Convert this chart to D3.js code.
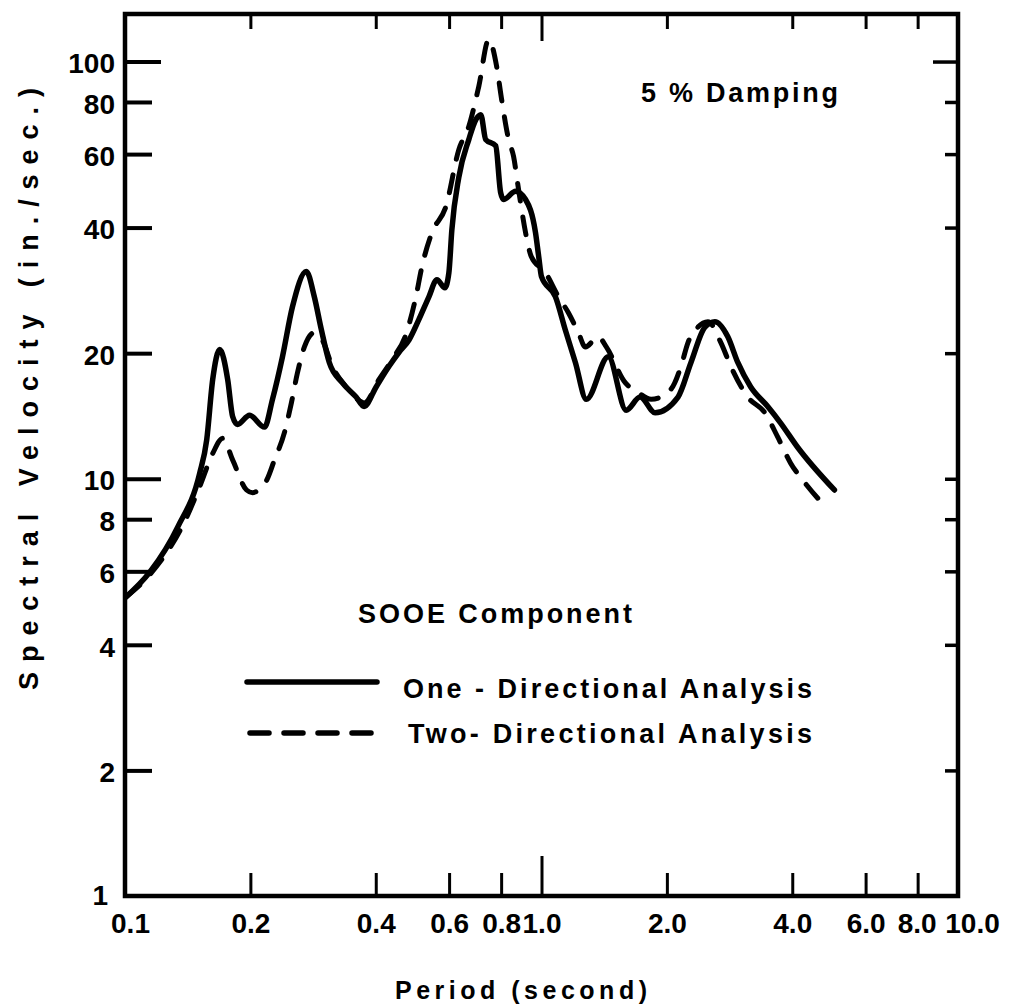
<!DOCTYPE html>
<html><head><meta charset="utf-8">
<script src="https://cdn.jsdelivr.net/npm/d3@7"></script>
<style>
body{margin:0;background:#fff;}
svg text{font-family:"Liberation Sans",Arial,sans-serif;font-weight:bold;fill:#000;}
</style></head><body>
<svg id="chart" width="1016" height="1005"></svg>
<script>
// ---------- data ----------
const xTicks = [0.1, 0.2, 0.4, 0.6, 0.8, 1.0, 2.0, 4.0, 6.0, 8.0, 10.0];
const xTickLabels = ["0.1","0.2","0.4","0.6","0.8","1.0","2.0","4.0","6.0","8.0","10.0"];
const yTicks = [1, 2, 4, 6, 8, 10, 20, 40, 60, 80, 100];
const yTickLabels = ["1","2","4","6","8","10","20","40","60","80","100"];

const oneDirPeriod = [0.1006,0.1148,0.1339,0.1511,0.1571,0.1624,0.1688,0.1764,0.1813,0.1863,0.1991,0.2162,0.2260,0.2388,0.2523,0.2725,0.2848,0.2960,0.3094,0.3323,0.3589,0.3751,0.4008,0.4305,0.4549,0.4806,0.5078,0.5366,0.5609,0.5862,0.5993,0.6092,0.6331,0.6690,0.6952,0.7148,0.7346,0.7762,0.7978,0.8110,0.8666,0.9157,0.9674,0.985,1.000,1.0802,1.1413,1.2060,1.2815,1.4466,1.5973,1.7252,1.8741,2.1270,2.2851,2.4680,2.6080,2.8015,2.9600,3.1797,3.4931,3.7517,4.1200,5.050];
const oneDirVelocity = [5.21,5.98,7.67,10.3,12.4,17.3,20.4,17.3,14.1,13.5,14.2,13.3,15.5,19.6,25.8,31.4,27.3,22.8,19.0,17.0,15.7,14.9,16.6,18.6,20.1,21.5,24.1,27.3,30.0,28.7,31.2,39.5,52.8,65.0,72.5,74.6,65.0,62.8,48.5,46.7,48.9,46.7,38.9,34.0,30.5,27.3,22.7,19.0,15.5,19.6,14.6,15.7,14.4,15.7,19.0,23.1,23.8,21.9,19.0,16.6,14.9,13.6,11.9,9.4];

const twoDirPeriod = [0.1006,0.1148,0.1407,0.1511,0.1624,0.1716,0.1813,0.1958,0.2024,0.2138,0.2186,0.2285,0.2414,0.2509,0.2593,0.2696,0.2848,0.2977,0.3146,0.3397,0.3649,0.3751,0.4074,0.4377,0.4727,0.4994,0.5162,0.5456,0.5894,0.6331,0.6690,0.7069,0.7469,0.7804,0.8022,0.8338,0.8570,0.8810,0.9157,0.9450,1.0223,1.0982,1.1604,1.2261,1.2745,1.3690,1.4307,1.5886,1.7063,1.8333,2.0464,2.1625,2.2476,2.3747,2.5090,2.6954,2.8480,3.1275,3.4356,3.6900,3.9643,4.2818,4.806];
const twoDirVelocity = [5.21,5.9,8.1,9.57,11.5,12.5,11.1,9.4,9.26,9.6,9.9,11.1,12.9,15.2,17.9,20.7,22.4,21.5,18.6,16.6,15.4,15.2,17.3,19.3,22.2,27.3,32.2,38.9,44.9,61.5,69.9,87.1,112.9,97.3,81.1,65.0,59.2,49.3,38.9,34.1,31.2,27.3,25.0,22.4,20.7,21.9,20.7,17.0,16.1,15.5,16.4,18.6,21.2,23.1,23.8,21.2,18.6,15.7,14.4,12.6,10.9,9.8,8.57];

const seriesNames = ["One - Directional Analysis", "Two- Directional Analysis"];
const xTitle = "Period (second)";
const yTitle = "Spectral Velocity (in./sec.)";
const dampingNote = "5 % Damping";
const componentNote = "SOOE Component";

// ---------- layout ----------
const svg = d3.select("#chart");
const X0 = 125, X1 = 958, Y0 = 896, Y1 = 14;
const x = d3.scaleLog().domain([0.1, 10]).range([X0, X1]);
const y = d3.scaleLog().domain([1, 130]).range([Y0, Y1]);
const INK = "#000";
const FONT = '"Liberation Sans",Arial,sans-serif';

// left axis (ticks inward, labels outside)
const gl = svg.append("g").attr("transform", `translate(${X0},0)`)
  .call(d3.axisLeft(y).tickValues(yTicks).tickFormat((d,i)=>yTickLabels[i])
    .tickSizeInner(-27).tickSizeOuter(0).tickPadding(10));
gl.select(".domain").remove();
gl.selectAll(".tick line").attr("x2", d => (d===10||d===100) ? 36 : 27)
  .attr("stroke", INK).attr("stroke-width", 4);
gl.selectAll(".tick").filter(d => d===1).select("line").remove();
gl.selectAll(".tick text").attr("font-size", 28)
  .attr("dy", d => d===1 ? "0.3em" : "0.4em")
  .attr("dx", d => d===1 ? -7 : 0)
  .style("font-family", FONT).style("font-weight","bold");

// right axis ticks
const gr = svg.append("g").attr("transform", `translate(${X1},0)`)
  .call(d3.axisRight(y).tickValues(yTicks.filter(d=>d>1)).tickFormat("")
    .tickSizeInner(-13).tickSizeOuter(0));
gr.select(".domain").remove();
gr.selectAll(".tick line").attr("x2", d => d===100 ? -25 : -13)
  .attr("stroke", INK).attr("stroke-width", 3.5);

// bottom axis
const gb = svg.append("g").attr("transform", `translate(0,${Y0})`)
  .call(d3.axisBottom(x).tickValues(xTicks).tickFormat((d,i)=>xTickLabels[i])
    .tickSizeInner(-23).tickSizeOuter(0).tickPadding(17));
gb.select(".domain").remove();
gb.selectAll(".tick line").attr("y2", d => d===1 ? -40 : -23)
  .attr("stroke", INK).attr("stroke-width", 3);
gb.selectAll(".tick").filter(d => d===0.1 || d===10).select("line").remove();
gb.selectAll(".tick text").attr("font-size", 28)
  .style("font-family", FONT).style("font-weight","bold")
  .attr("dx", d => d===10 ? 14 : (d===8 ? -1 : (d===0.1 ? 5 : 0)));

// top axis ticks
const gt = svg.append("g").attr("transform", `translate(0,${Y1})`)
  .call(d3.axisTop(x).tickValues(xTicks.filter(d=>d>0.1 && d<10)).tickFormat("")
    .tickSizeInner(-15).tickSizeOuter(0));
gt.select(".domain").remove();
gt.selectAll(".tick line").attr("y2", d => d===1 ? 27 : 15)
  .attr("stroke", INK).attr("stroke-width", 3);

// frame
svg.append("rect").attr("x", X0).attr("y", Y1).attr("width", X1-X0).attr("height", Y0-Y1)
  .attr("fill", "none").attr("stroke", INK).attr("stroke-width", 4.5);

// series
const oneDir = oneDirPeriod.map((p,i)=>({p, v: oneDirVelocity[i]}));
const twoDir = twoDirPeriod.map((p,i)=>({p, v: twoDirVelocity[i]}));
const line = d3.line().x(d=>x(d.p)).y(d=>y(d.v)).curve(d3.curveMonotoneX);

svg.append("path").datum(twoDir).attr("d", line)
  .attr("fill","none").attr("stroke",INK).attr("stroke-width",5)
  .attr("stroke-dasharray","18,16").attr("stroke-linecap","round").attr("stroke-linejoin","round");
svg.append("path").datum(oneDir).attr("d", line)
  .attr("fill","none").attr("stroke",INK).attr("stroke-width",5.5)
  .attr("stroke-linecap","round").attr("stroke-linejoin","round");

// annotations
function fitText(txt, x0, yBase, width, size){
  return svg.append("text").attr("x", x0).attr("y", yBase).attr("font-size", size)
    .attr("textLength", width).attr("lengthAdjust", "spacing").text(txt);
}
fitText(dampingNote, 641, 102, 197, 27);
fitText(componentNote, 358, 623, 274, 27);

// legend
const legend = svg.append("g");
legend.append("line").attr("x1",247).attr("x2",377).attr("y1",682).attr("y2",682)
  .attr("stroke",INK).attr("stroke-width",5.5).attr("stroke-linecap","round");
legend.append("line").attr("x1",250).attr("x2",376).attr("y1",733).attr("y2",733)
  .attr("stroke",INK).attr("stroke-width",5.5).attr("stroke-linecap","round")
  .attr("stroke-dasharray","19,15");
fitText(seriesNames[0], 403, 698, 409, 27);
fitText(seriesNames[1], 408, 743, 404, 27);

// axis titles
svg.append("text").attr("x", 395).attr("y", 999).attr("font-size", 25)
  .attr("textLength", 252).attr("lengthAdjust","spacing").text(xTitle);
svg.append("text").attr("transform","translate(38,690) rotate(-90)")
  .attr("font-size", 27).attr("textLength", 602).attr("lengthAdjust","spacing").text(yTitle);
</script>
</body></html>
